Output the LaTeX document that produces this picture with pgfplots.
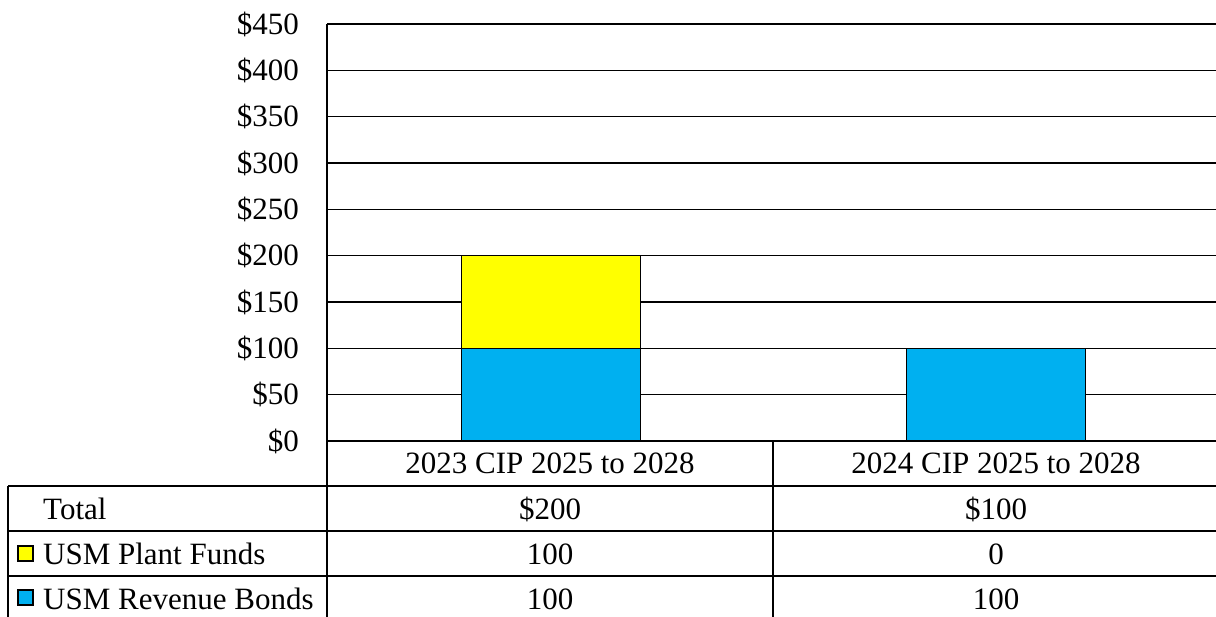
\documentclass[border=0pt]{standalone}
\usepackage{pgfplots}
\pgfplotsset{compat=1.18}
\usepackage{fontspec}
\setmainfont{Liberation Serif}
\definecolor{cyellow}{HTML}{FFFF00}
\definecolor{cblue}{HTML}{00B0F0}
\begin{document}
\fontsize{31}{36}\selectfont
\begin{tikzpicture}[x=1pt,y=1pt]
\path[use as bounding box] (0,0) rectangle (1216,-617);
\begin{axis}[
  at={(327pt,-441pt)}, anchor=south west,
  scale only axis, width=889pt, height=417pt,
  xmin=-0.5, xmax=1.5, ymin=0, ymax=450,
  ytick={0,50,...,450}, xtick=\empty,
  ymajorgrids, grid style={black, line width=1.3pt},
  axis line style={draw=none},
  major tick length=0pt,
  /pgf/number format/assume math mode=true,
  yticklabel={\$\pgfmathprintnumber{\tick}},
  yticklabel style={font=\fontsize{31}{36}\selectfont, inner sep=0pt, anchor=east, xshift=-28pt},
  ybar stacked, bar width=179pt, bar shift=2pt,
  clip=false,
]
\addplot[fill=cblue, draw=black, line width=1.3pt] coordinates {(0,100) (1,100)};
\addplot[fill=cyellow, draw=black, line width=1.3pt] coordinates {(0,100) (1,0)};
\end{axis}
% table lines
\begin{scope}[line width=1.3pt]
\draw (327,-24) -- (327,-617);
\draw (327,-441) -- (1216,-441);
\draw (8,-486) -- (1216,-486);
\draw (8,-531) -- (1216,-531);
\draw (8,-576) -- (1216,-576);
\draw (8,-486) -- (8,-617);
\draw (773,-441) -- (773,-617);
\end{scope}
% legend keys
\draw[fill=cyellow, line width=1.2pt] (18,-546) rectangle (33,-561);
\draw[fill=cblue, line width=1.2pt] (18,-590) rectangle (33,-605);
% table text
\node[anchor=base] at (550,-474) {2023 CIP 2025 to 2028};
\node[anchor=base] at (996,-474) {2024 CIP 2025 to 2028};
\node[anchor=base west, inner sep=0pt] at (43,-519) {Total};
\node[anchor=base west, inner sep=0pt] at (43,-564) {USM Plant Funds};
\node[anchor=base west, inner sep=0pt] at (43,-609) {USM Revenue Bonds};
\node[anchor=base] at (550,-519) {\$200};
\node[anchor=base] at (996,-519) {\$100};
\node[anchor=base] at (550,-564) {100};
\node[anchor=base] at (996,-564) {0};
\node[anchor=base] at (550,-609) {100};
\node[anchor=base] at (996,-609) {100};
\end{tikzpicture}
\end{document}
